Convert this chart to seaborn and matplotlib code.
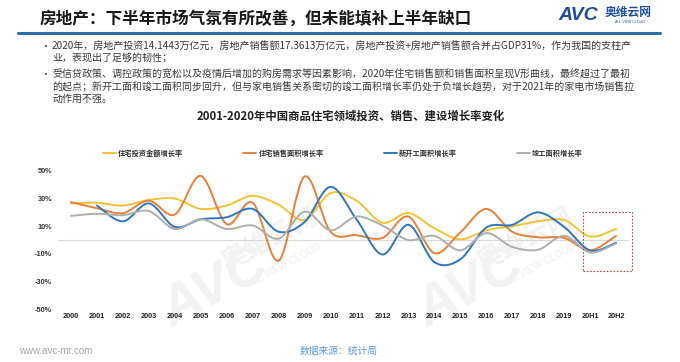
import numpy as np
import pandas as pd
import matplotlib
matplotlib.use("Agg")
import matplotlib.pyplot as plt
import seaborn as sns
from matplotlib.path import Path
from matplotlib.patches import PathPatch, Rectangle
from matplotlib.lines import Line2D

# data (growth rates, %)
periods = ["2000", "2001", "2002", "2003", "2004", "2005", "2006", "2007", "2008", "2009", "2010",
           "2011", "2012", "2013", "2014", "2015", "2016", "2017", "2018", "2019", "20H1", "20H2"]
invest_growth = [26.5, 27.0, 25.0, 29.0, 30.0, 22.5, 25.0, 32.0, 25.5, 14.5, 34.0,
                 28.5, 12.5, 19.5, 8.5, 0.5, 7.0, 10.0, 13.5, 14.5, 2.5, 8.0]
sales_area_growth = [27.5, 23.0, 19.5, 28.5, 18.5, 46.5, 11.5, 27.0, -15.0, 46.0, 6.0,
                     3.5, 1.5, 17.0, -9.5, 5.5, 22.5, 6.0, 2.0, 1.5, -7.5, 3.0]
new_start_growth = [np.nan, 25.0, 13.5, 26.5, 9.5, 15.0, 16.5, 22.5, 6.0, 13.0, 38.5,
                    15.0, -10.5, 11.0, -16.0, -14.0, 9.0, 11.0, 20.0, 9.5, -7.5, -2.0]
completed_growth = [17.5, 19.0, 18.0, 21.0, 8.0, 15.0, 8.0, 10.5, 1.0, 20.5, 7.0,
                    17.0, 10.5, 0.0, 3.0, -7.5, 5.0, -5.0, -7.0, 3.0, -9.0, -2.5]

series_names = ["住宅投资金额增长率", "住宅销售面积增长率", "新开工面积增长率", "竣工面积增长率"]
series_colors = ["#F7C235", "#E8803A", "#2E78C0", "#AEAEAE"]
y_ticks = [-50, -30, -10, 10, 30, 50]

title_text = "房地产：下半年市场气氛有所改善，但未能填补上半年缺口"
chart_title = "2001-2020年中国商品住宅领域投资、销售、建设增长率变化"
bullet_1 = ["2020年，房地产投资14.1443万亿元，房地产销售额17.3613万亿元，房地产投资+房地产销售额合并占GDP31%，作为我国的支柱产",
            "业，表现出了足够的韧性；"]
bullet_2 = ["受信贷政策、调控政策的宽松以及疫情后增加的购房需求等因素影响，2020年住宅销售额和销售面积呈现V形曲线，最终超过了最初",
            "的起点；新开工面和竣工面积同步回升，但与家电销售关系密切的竣工面积增长率仍处于负增长趋势，对于2021年的家电市场销售拉",
            "动作用不强。"]


def smooth_path(xs, ys):
    # Excel-style smoothed line: Catmull-Rom segments as cubic Bezier curves
    pts = [(x, y) for x, y in zip(xs, ys) if not np.isnan(y)]
    verts, codes = [pts[0]], [Path.MOVETO]
    n = len(pts)
    for i in range(n - 1):
        p0, p1 = pts[max(i - 1, 0)], pts[i]
        p2, p3 = pts[i + 1], pts[min(i + 2, n - 1)]
        c1 = (p1[0] + (p2[0] - p0[0]) / 6, p1[1] + (p2[1] - p0[1]) / 6)
        c2 = (p2[0] - (p3[0] - p1[0]) / 6, p2[1] - (p3[1] - p1[1]) / 6)
        verts += [c1, c2, p2]
        codes += [Path.CURVE4] * 3
    return Path(verts, codes)


sns.set_theme(style="white")
plt.rcParams["font.family"] = ["Noto Sans CJK SC", "DejaVu Sans"]

df = pd.DataFrame({
    "period": periods,
    series_names[0]: invest_growth,
    series_names[1]: sales_area_growth,
    series_names[2]: new_start_growth,
    series_names[3]: completed_growth,
})
palette = sns.color_palette(series_colors)

W, H = 680, 362
fig = plt.figure(figsize=(W / 100, H / 100), dpi=100)
fig.patch.set_facecolor("white")

# faint watermarks behind the chart
wm = "#F2F2F2"
for cx in (215, 470):
    fig.text(cx / W, 1 - 290 / H, "AVC", fontsize=40, color=wm, weight="bold", style="italic",
             rotation=28, ha="center", va="center", family=["Liberation Sans"], zorder=-2)
    fig.text((cx + 55) / W, 1 - 240 / H, "奥维云网", fontsize=19, color=wm, weight="bold",
             rotation=28, ha="center", va="center", zorder=-2)
    fig.text((cx + 68) / W, 1 - 266 / H, "ALL VIEW CLOUD", fontsize=7, color=wm, weight="bold",
             rotation=28, ha="center", va="center", family=["Liberation Sans"], zorder=-2)

# header
fig.text(40 / W, 1 - 19 / H, title_text, fontsize=12, weight="bold", color="#1A1A1A", va="center")
fig.add_artist(Line2D([18 / W, 660 / W], [1 - 33 / H, 1 - 33 / H], color="#2F6DAE", lw=2.2))
fig.text(558 / W, 1 - 15 / H, "AVC", fontsize=14, weight="bold", style="italic", color="#1F4E9E",
         va="center", family=["Liberation Sans"])
fig.text(605 / W, 1 - 12 / H, "奥维云网", fontsize=8.5, weight="bold", color="#1F4E9E", va="center")
fig.text(630 / W, 1 - 22 / H, "ALL VIEW CLOUD", fontsize=2.6, color="#1F4E9E", va="center", ha="center",
         family=["Liberation Sans"])

# bullets
text_color = "#3A3A3A"
for lines, top in ((bullet_1, 47), (bullet_2, 75)):
    fig.text(40 / W, 1 - top / H, "•", fontsize=7.2, color=text_color, va="center")
    for k, line in enumerate(lines):
        fig.text(52 / W, 1 - (top + 11.8 * k) / H, line, fontsize=7.2, color=text_color, va="center")

fig.text(351 / W, 1 - 116 / H, chart_title, fontsize=8.2, weight="bold", color="#222222",
         ha="center", va="center")

# chart
ax = fig.add_axes([58 / W, 1 - 309 / H, 571 / W, 138 / H])
ax.set_facecolor("none")
x_pos = np.arange(len(df))
for name, color in zip(series_names, palette):
    ax.add_patch(PathPatch(smooth_path(x_pos, df[name].to_numpy()), facecolor="none",
                           edgecolor=color, lw=1.4, capstyle="round", joinstyle="round", zorder=3))
ax.axhline(0, color="#D9D9D9", lw=0.8, zorder=1)
ax.set_xlim(-0.5, len(df) - 0.5)
ax.set_ylim(-50, 50)
ax.set_xticks(x_pos)
ax.set_xticklabels(df["period"], fontsize=5.3, weight="bold", color="#222222",
                   family=["Liberation Sans"])
ax.set_yticks(y_ticks)
ax.set_yticklabels([f"{v}%" for v in y_ticks], fontsize=5.3, weight="bold", color="#333333",
                   family=["Liberation Sans"])
ax.tick_params(axis="x", length=0, pad=3.2)
ax.tick_params(axis="y", length=0, pad=4.3)
ax.grid(False)
sns.despine(ax=ax, left=True, bottom=True)

# highlight box around the 2020 half-years
ax.add_patch(Rectangle((19.73, -22.5), 1.89, 42.8, fill=False, edgecolor="#B8474A", lw=0.8,
                       linestyle=(0, (1.5, 1.5)), clip_on=False, zorder=4))

handles = [Line2D([], [], color=c, lw=1.4) for c in palette]
fig.legend(handles, series_names, loc="center", bbox_to_anchor=(343 / W, 1 - 153 / H), ncol=4,
           frameon=False, handlelength=1.8, handletextpad=0.3, columnspacing=8.3,
           prop={"size": 5.2, "weight": "bold"}, labelcolor="#333333")

# footer
fig.text(19 / W, 1 - 351 / H, "www.avc-mr.com", fontsize=7, color="#A6A6A6", va="center",
         family=["Liberation Sans"])
fig.text(339 / W, 1 - 351 / H, "数据来源：统计局", fontsize=7, color="#5B9BD5", va="center", ha="center")

fig.savefig("out.png", dpi=100)
